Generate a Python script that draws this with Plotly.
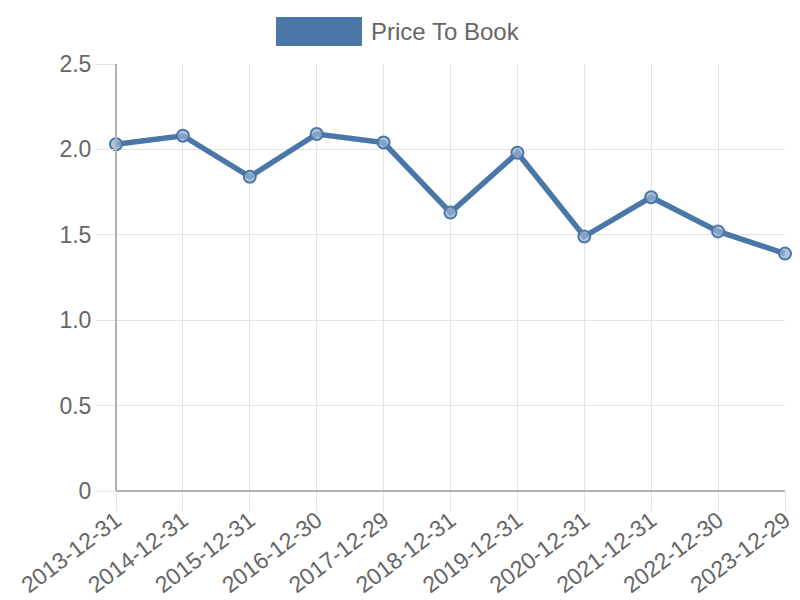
import plotly.graph_objs as go

dates = [
    "2013-12-31", "2014-12-31", "2015-12-31", "2016-12-30", "2017-12-29",
    "2018-12-31", "2019-12-31", "2020-12-31", "2021-12-31", "2022-12-30",
    "2023-12-29",
]
price_to_book = [2.03, 2.08, 1.84, 2.09, 2.04, 1.63, 1.98, 1.49, 1.72, 1.52, 1.39]
y_ticks = [0, 0.5, 1.0, 1.5, 2.0, 2.5]
y_tick_labels = ["0", "0.5", "1.0", "1.5", "2.0", "2.5"]

blue = "#4a76a8"
grid = "#e3e3e3"

# the page body has an 8px margin, so the figure is a bit smaller and shifted
offset = 8
plot_left, plot_top, plot_w, plot_h = 116, 64, 669, 427


def px_x(x):
    return (x - plot_left) / plot_w


def px_y(y):
    return (plot_top + plot_h - y) / plot_h


fig = go.Figure(
    data=[
        go.Scatter(
            x=dates,
            y=price_to_book,
            mode="lines+markers",
            name="Price To Book",
            line=dict(color=blue, width=5.5),
            marker=dict(
                size=12,
                color="rgba(150,177,208,0.75)",
                line=dict(color=blue, width=2),
            ),
            cliponaxis=False,
            showlegend=False,
        )
    ],
    layout=go.Layout(
        width=800 - offset,
        height=600 - offset,
        margin=dict(
            l=plot_left - offset,
            r=800 - plot_left - plot_w,
            t=plot_top - offset,
            b=600 - plot_top - plot_h,
        ),
        paper_bgcolor="white",
        plot_bgcolor="white",
        font=dict(family="Liberation Sans, Arial, sans-serif", size=23, color="#666666"),
        xaxis=dict(
            type="category",
            range=[0, len(dates) - 1],
            automargin=False,
            showgrid=True,
            gridcolor=grid,
            gridwidth=1,
            ticks="outside",
            ticklen=19,
            tickcolor=grid,
            tickangle=-37,
            ticklabelstandoff=-13,
            showline=False,
            zeroline=False,
        ),
        yaxis=dict(
            range=[0, 2.5],
            automargin=False,
            tickvals=y_ticks,
            ticktext=y_tick_labels,
            showgrid=True,
            gridcolor=grid,
            gridwidth=1,
            ticks="outside",
            ticklen=19,
            tickcolor=grid,
            showline=False,
            zeroline=False,
        ),
        hovermode="closest",
    ),
)

# axis lines drawn like the reference: darker grey left and bottom
fig.add_shape(type="line", xref="paper", yref="paper", x0=0, x1=0, y0=0, y1=1,
              line=dict(color="#b0b0b0", width=2))
fig.add_shape(type="line", xref="paper", yref="paper", x0=0, x1=1, y0=0, y1=0,
              line=dict(color="#b0b0b0", width=2))

# legend box like Chart.js
fig.add_shape(type="rect", xref="paper", yref="paper",
              x0=px_x(276), x1=px_x(362), y0=px_y(46), y1=px_y(17),
              fillcolor=blue, line=dict(width=0))
fig.add_annotation(text="Price To Book", xref="paper", yref="paper",
                   x=px_x(369), y=px_y(32), xanchor="left", yanchor="middle",
                   showarrow=False, font=dict(size=24, color="#666666"))

fig.write_html("out.html")
